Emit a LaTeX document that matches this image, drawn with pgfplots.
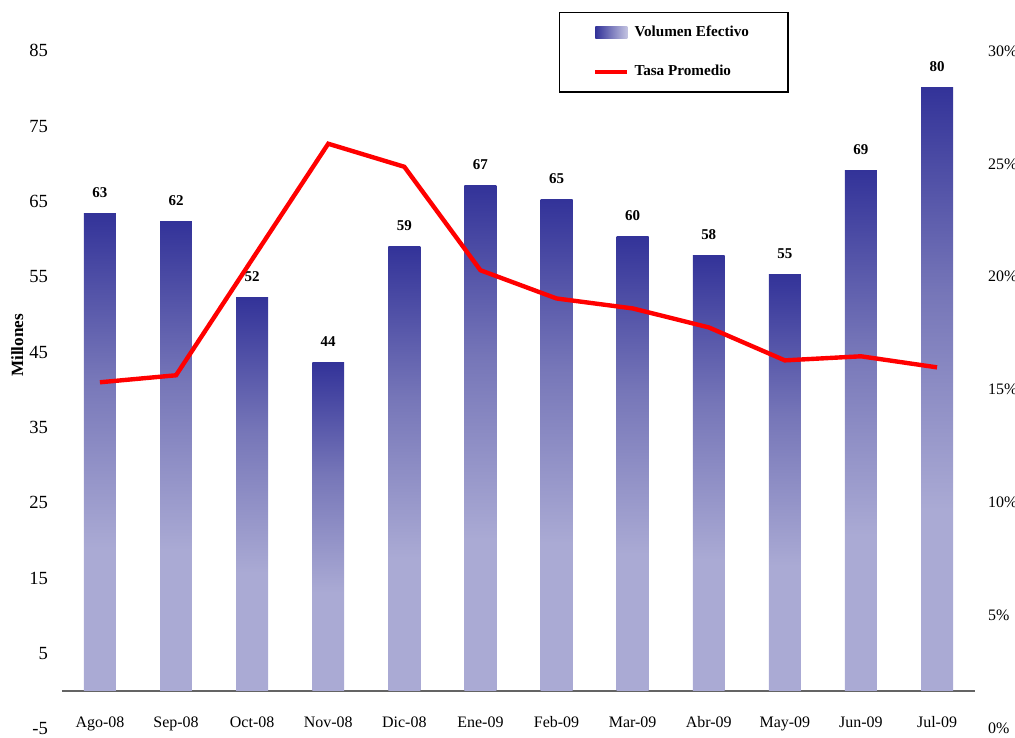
\documentclass[border=0pt]{standalone}
\usepackage{pgfplots}
\pgfplotsset{compat=1.18}
\usepackage{fontspec}
\setmainfont{Liberation Serif}

\definecolor{bardark}{RGB}{51,51,153}
\definecolor{barmid}{RGB}{118,118,184}
\definecolor{barlight}{RGB}{170,170,212}
\definecolor{zeroline}{RGB}{100,100,100}
% vertical shading: 0bp = bottom, bar box mapped to 25bp..75bp
\pgfdeclareverticalshading{barshade}{100bp}{color(0bp)=(barlight); color(25bp)=(barlight); color(40bp)=(barlight); color(58bp)=(barmid); color(75bp)=(bardark); color(100bp)=(bardark)}

\pgfplotstableread{
x vol
0 63.4
1 62.3
2 52.2
3 43.6
4 59.0
5 67.1
6 65.2
7 60.4
8 57.8
9 55.3
10 69.1
11 80.1
}\voltable

\pgfplotstableread{
x tasa
0 15.33
1 15.64
2 20.77
3 25.89
4 24.87
5 20.29
6 19.04
7 18.60
8 17.76
9 16.30
10 16.48
11 15.99
}\tasatable

\begin{document}
\begin{tikzpicture}
\begin{axis}[
  scale only axis, width=457.5pt, height=339.5pt,
  xmin=-0.5, xmax=11.5, ymin=-5, ymax=85,
  axis line style={draw=none}, tick style={draw=none},
  xtick={0,...,11},
  xticklabels={Ago-08,Sep-08,Oct-08,Nov-08,Dic-08,Ene-09,Feb-09,Mar-09,Abr-09,May-09,Jun-09,Jul-09},
  xticklabel style={font=\fontsize{8}{9}\selectfont, anchor=base, yshift=0.5pt},
  ytick={-5,5,...,85},
  yticklabel style={font=\fontsize{9.3}{11}\selectfont, anchor=east, xshift=-3.5pt},
  /pgf/number format/assume math mode=true,
  extra y ticks={0}, extra y tick labels={},
  extra y tick style={grid=major, major grid style={draw=zeroline, line width=0.8pt}},
  ylabel={\textbf{Millones}},
  ylabel style={at={(axis description cs:-0.049,0.5655)}, anchor=center, font=\fontsize{8.6}{10}\selectfont},
  clip=false,
]
% one plot per bar so that each bar gets its own gradient
\pgfplotsinvokeforeach{0,...,11}{
\addplot[ybar, bar width=16pt, draw=none, shading=barshade,
  restrict x to domain=#1:#1,
  nodes near coords={\pgfmathprintnumber[fixed,precision=0]{\pgfplotspointmeta}},
  every node near coord/.append style={font=\fontsize{7.5}{9}\selectfont\bfseries, anchor=center, yshift=10.5pt, text=black}]
  table[x=x, y=vol] {\voltable};
}
\end{axis}
\begin{axis}[
  scale only axis, width=457.5pt, height=339.5pt,
  xmin=-0.5, xmax=11.5, ymin=0, ymax=30,
  axis x line=none, axis y line*=right,
  y axis line style={draw=none}, tick style={draw=none},
  ytick={0,5,...,30},
  yticklabel={\pgfmathprintnumber{\tick}\%},
  yticklabel style={font=\fontsize{8}{9}\selectfont, anchor=west, xshift=3pt},
  /pgf/number format/assume math mode=true,
  clip=false,
  legend cell align=left,
  legend style={at={(rel axis cs:0.544,1.057)}, anchor=north west, draw=black, line width=0.6pt,
    font=\fontsize{7.6}{9}\selectfont\bfseries, inner xsep=17pt, inner ysep=4.5pt, row sep=9pt,
    nodes={inner xsep=2.5pt}},
]
\addlegendimage{legend image code/.code={\path[draw=none, left color=bardark, right color=barlight!70!white] (0pt,-3pt) rectangle (16pt,3pt);}}
\addlegendentry{Volumen Efectivo}
\addplot[red, line width=2.2pt, mark=none,
  legend image code/.code={\draw[red, line width=2.2pt] (0pt,0pt) -- (16pt,0pt);}]
  table[x=x, y=tasa] {\tasatable};
\addlegendentry{Tasa Promedio}
\end{axis}
\pgfresetboundingbox
\path ([shift={(-31pt,-4.5pt)}]current axis.south west) rectangle ([shift={(20pt,25.5pt)}]current axis.north east);
\end{tikzpicture}
\end{document}
